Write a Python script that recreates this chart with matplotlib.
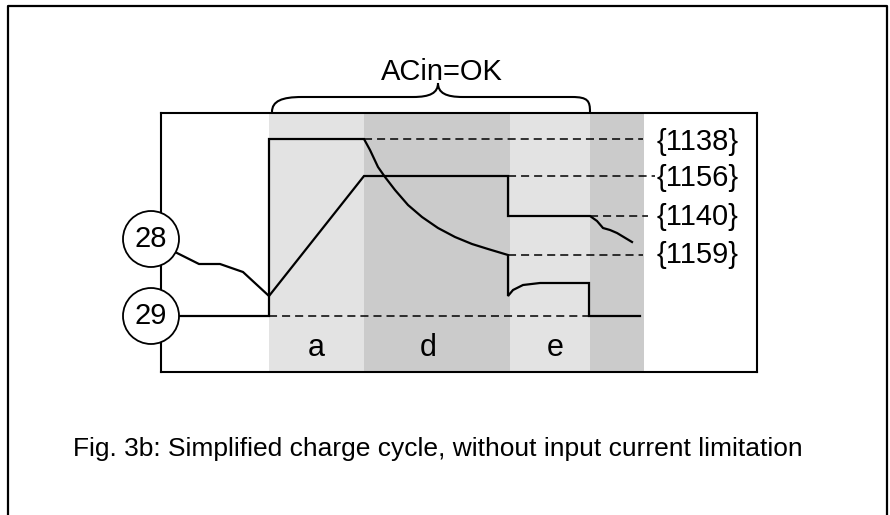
import matplotlib
matplotlib.use('Agg')
import matplotlib.pyplot as plt
from matplotlib.patches import Circle, PathPatch
from matplotlib.path import Path

plt.rcParams['font.family'] = ['Liberation Sans', 'DejaVu Sans']
plt.rcParams['lines.scale_dashes'] = False

# diagram units (= pixels of the 890x515 picture, y grows downwards)
W, H = 890, 515
box_x = (161, 757)
box_y = (113, 372)

# shaded phases: (start, end, colour)
phase_start = [269, 364, 510, 590]
phase_end = [364, 510, 590, 644]
phase_color = ['#e3e3e3', '#cbcbcb', '#e3e3e3', '#cbcbcb']
phase_names = ['a', 'd', 'e']
phase_label_x = [316, 428, 555]

# signal 28
sig28_x = [177, 199, 220, 243, 269, 364, 508, 508, 590, 597, 603, 610, 617, 632]
sig28_y = [253, 264, 264, 272, 296, 176, 176, 216, 216, 221, 228, 230, 233, 242]

# signal 29
sig29_x = [179, 269, 269, 364, 370, 378, 385, 395, 408, 422, 438, 455, 472, 488, 508,
           508, 513, 523, 540, 589, 589, 640]
sig29_y = [316, 316, 139, 139, 150, 167, 177, 190, 205, 217, 228, 237, 244, 249, 255,
           296, 290, 285, 283, 283, 316, 316]

# dashed reference levels
level_names = ['{1138}', '{1156}', '{1140}', '{1159}']
level_y = [139, 176, 216, 255]
level_x0 = [364, 508, 590, 508]
level_x1 = [643, 655, 648, 643]
level_baseline = [150, 186, 225, 263]
base_y, base_x0, base_x1 = 316, 269, 640

circle_names = ['28', '29']
circle_y = [239, 316]

fig = plt.figure(figsize=(W / 100, H / 100), dpi=100)
ax = fig.add_axes([box_x[0] / W, 1 - box_y[1] / H,
                   (box_x[1] - box_x[0]) / W, (box_y[1] - box_y[0]) / H])
ax.set_xlim(*box_x)
ax.set_ylim(box_y[1], box_y[0])
ax.set_xticks([])
ax.set_yticks([])
for s in ax.spines.values():
    s.set_linewidth(1.5)
    s.set_zorder(3)

for x0, x1, c in zip(phase_start, phase_end, phase_color):
    ax.axvspan(x0, x1, color=c, lw=0, zorder=0)

dash = (0, (5.8, 3.6))
for y, x0, x1 in zip(level_y, level_x0, level_x1):
    ax.plot([x0, x1], [y, y], color='black', lw=1.1, linestyle=dash,
            clip_on=False, zorder=1)
ax.plot([base_x0, base_x1], [base_y, base_y], color='black', lw=1.1,
        linestyle=dash, zorder=1)

ax.plot(sig28_x, sig28_y, color='black', lw=1.6, clip_on=False, zorder=2,
        solid_joinstyle='miter')
ax.plot(sig29_x, sig29_y, color='black', lw=1.6, clip_on=False, zorder=2,
        solid_joinstyle='miter')

fs = 21
for name, y in zip(level_names, level_baseline):
    ax.text(657, y, name, fontsize=fs, va='baseline', ha='left')

for name, x in zip(phase_names, phase_label_x):
    ax.text(x, 356, name, fontsize=22, va='baseline', ha='center', zorder=5)

for name, y in zip(circle_names, circle_y):
    ax.add_patch(Circle((151, y), 28, facecolor='white', edgecolor='black',
                        lw=1.3, clip_on=False, zorder=4))
    ax.text(151, y, name, fontsize=fs, va='center', ha='center', zorder=5)

# curly brace over the "ACin=OK" span
verts = [(272, 112), (272, 101), (282, 97), (302, 97),
         (413, 97),
         (430, 97), (438, 93), (438, 83),
         (438, 93), (446, 97), (463, 97),
         (572, 97),
         (588, 97), (590, 101), (590, 112)]
codes = [Path.MOVETO, Path.CURVE4, Path.CURVE4, Path.CURVE4,
         Path.LINETO,
         Path.CURVE4, Path.CURVE4, Path.CURVE4,
         Path.CURVE4, Path.CURVE4, Path.CURVE4,
         Path.LINETO,
         Path.CURVE4, Path.CURVE4, Path.CURVE4]
ax.add_patch(PathPatch(Path(verts, codes), facecolor='none', edgecolor='black',
                       lw=1.5, clip_on=False, zorder=3))
ax.text(442, 80, 'ACin=OK', fontsize=fs, va='baseline', ha='center')

# outer frame (open at the bottom)
ax.plot([8, 8, 887, 887], [H + 10, 6, 6, H + 10], color='black', lw=1.6,
        clip_on=False)

ax.text(73, 456, 'Fig. 3b: Simplified charge cycle, without input current limitation',
        fontsize=19, va='baseline', ha='left')

fig.savefig('out.png', dpi=100)
